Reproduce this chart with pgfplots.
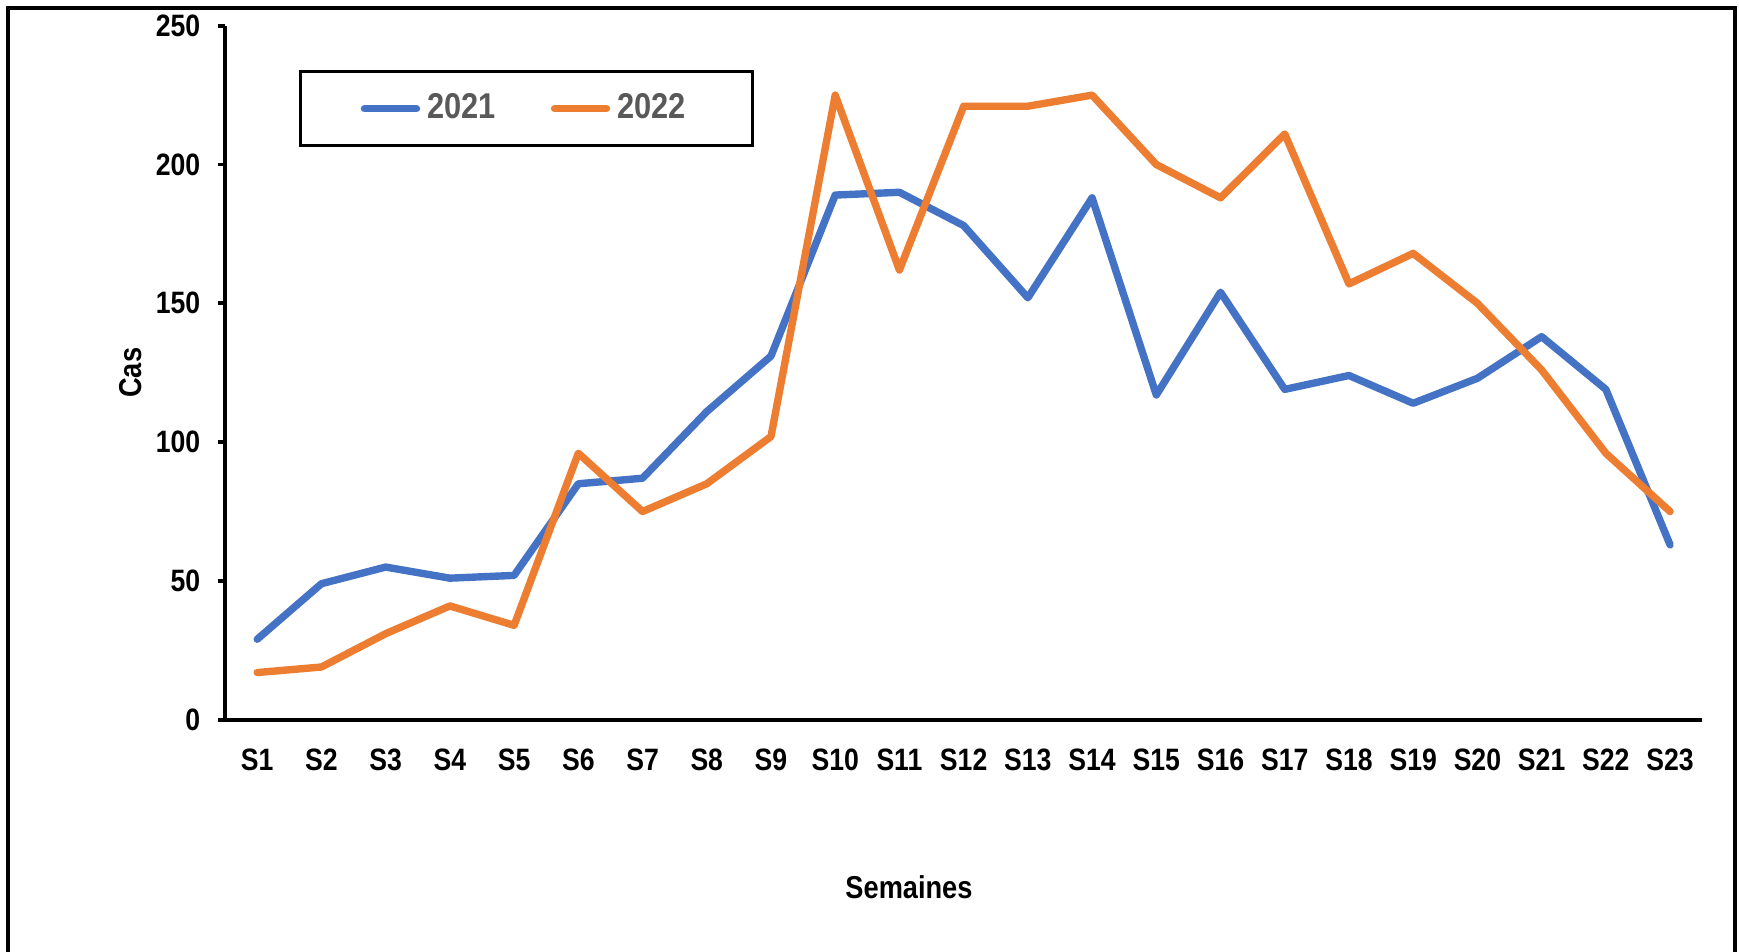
\documentclass[border=0pt]{standalone}
\usepackage{pgfplots}
\pgfplotsset{compat=1.18}
\usepackage{pgfplotstable}
\usepackage{fontspec}
\setmainfont{Liberation Sans}[FakeStretch=0.86]
\definecolor{bleu}{HTML}{4472C4}
\definecolor{orange}{HTML}{ED7D31}
\definecolor{grislegende}{HTML}{595959}

\pgfplotstableread{
x y
0 29
1 49
2 55
3 51
4 52
5 85
6 87
7 111
8 131
9 189
10 190
11 178
12 152
13 188
14 117
15 154
16 119
17 124
18 114
19 123
20 138
21 119
22 63
}\annee

\pgfplotstableread{
x y
0 17
1 19
2 31
3 41
4 34
5 96
6 75
7 85
8 102
9 225
10 162
11 221
12 221
13 225
14 200
15 188
16 211
17 157
18 168
19 150
20 126
21 96
22 75
}\anneeb

\begin{document}
\begin{tikzpicture}
\useasboundingbox (-2.251,-2.318) rectangle (15.138,7.197);
\fill[white] (-2.251,-2.318) rectangle (15.138,7.197);
\draw[line width=1.1pt] (-2.167,-3) -- (-2.167,7.114) -- (15.094,7.114) -- (15.094,-3);
\begin{axis}[
  at={(0,0)}, anchor=south west,
  scale only axis, width=14.77cm, height=6.94cm,
  axis lines=left, axis line style={line width=1.1pt, -},
  xmin=-0.5, xmax=22.5, ymin=0, ymax=250,
  ytick={0,50,...,250},
  xtick={0,...,22},
  xticklabels={S1,S2,S3,S4,S5,S6,S7,S8,S9,S10,S11,S12,S13,S14,S15,S16,S17,S18,S19,S20,S21,S22,S23},
  x tick style={draw=none},
  y tick style={draw=black, line width=1.1pt},
  extra x ticks={-0.5,0.5,...,22.5},
  extra x tick labels={},
  extra x tick style={tick style={draw=black, line width=1.1pt}},
  tick align=outside, major tick length=0.075cm,
  /pgf/number format/assume math mode=true,
  ticklabel style={font=\fontsize{8.8}{10}\selectfont\bfseries},
  xticklabel style={yshift=-0.09cm},
  yticklabel style={xshift=-0.05cm},
  xlabel={\fontsize{9}{10}\selectfont\bfseries Semaines},
  ylabel={\fontsize{9}{10}\selectfont\bfseries Cas},
  xlabel style={at={(axis description cs:0.463,-0.241)}, anchor=center},
  ylabel style={at={(axis description cs:-0.0638,0.5)}, anchor=center},
  legend columns=2,
  legend style={at={(0.0503,0.936)}, anchor=north west, draw=black, line width=0.8pt,
    inner xsep=0.6cm, inner ysep=0.15cm,
    font=\fontsize{10.2}{12}\selectfont\bfseries, text=grislegende,
    /tikz/every even column/.append style={column sep=0.48cm}},
  legend image code/.code={\draw[#1, line cap=round] (0cm,0cm) -- (0.52cm,0cm);},
]
\addplot[bleu, line width=2.1pt, line join=round, line cap=round] table[x=x,y=y]{\annee};
\addlegendentry{2021}
\addplot[orange, line width=2.1pt, line join=round, line cap=round] table[x=x,y=y]{\anneeb};
\addlegendentry{2022}
\end{axis}
\end{tikzpicture}
\end{document}
